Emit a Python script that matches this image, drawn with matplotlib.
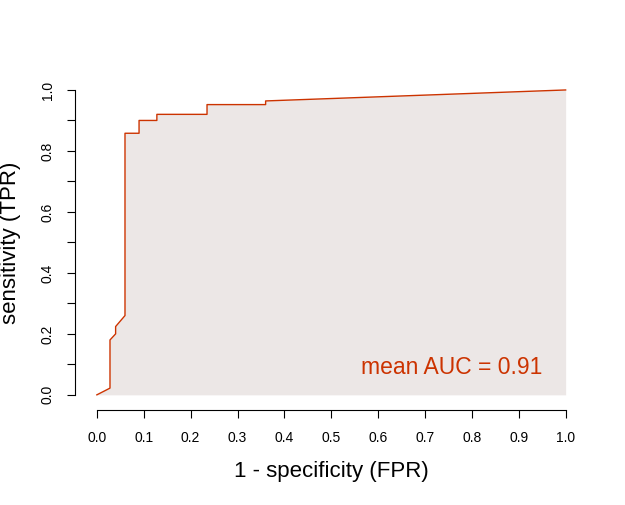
import matplotlib.pyplot as plt
import numpy as np

# ROC step curve (FPR, TPR)
fpr = [0.0, 0.028, 0.028, 0.040, 0.040, 0.060, 0.060, 0.090, 0.090, 0.128, 0.128, 0.235, 0.235, 0.360, 0.360, 1.0]
tpr = [0.0, 0.022, 0.180, 0.200, 0.224, 0.260, 0.858, 0.858, 0.900, 0.900, 0.920, 0.920, 0.952, 0.952, 0.964, 1.0]
auc_text = "mean AUC = 0.91"

line_col = "#CC3300"
fill_col = "#ECE7E6"

fig = plt.figure(figsize=(6.25, 5.05), dpi=100)
ax = fig.add_axes([0.125, 0.194, 0.810, 0.652])
ax.fill_between(fpr, tpr, 0, color=fill_col, linewidth=0)
ax.plot(fpr, tpr, color=line_col, linewidth=1.0)
ax.text(0.95, 0.09, auc_text, color=line_col, fontsize=16.5, ha="right", va="center",
        family="Liberation Sans")

ax.set_xlim(-0.04, 1.04)
ax.set_ylim(-0.04, 1.04)
for s in ["top", "right"]:
    ax.spines[s].set_visible(False)
ax.spines["left"].set_bounds(0, 1)
ax.spines["bottom"].set_bounds(0, 1)
ax.spines["left"].set_position(("outward", 2))
ax.spines["bottom"].set_position(("outward", 2))

ax.set_xticks(np.arange(0, 1.01, 0.1))
ax.set_xticklabels([f"{v:.1f}" for v in np.arange(0, 1.01, 0.1)], family="Liberation Sans", fontsize=10)
ax.set_yticks(np.arange(0, 1.01, 0.1))
ax.set_yticklabels([f"{v:.1f}" if i % 2 == 0 else "" for i, v in enumerate(np.arange(0, 1.01, 0.1))],
                   family="Liberation Sans", fontsize=10, rotation=90, va="center")
ax.tick_params(length=6, pad=9)

ax.set_xlabel("1 - specificity (FPR)", fontsize=16, family="Liberation Sans", labelpad=12)
ax.set_ylabel("sensitivity (TPR)", fontsize=16, family="Liberation Sans", labelpad=14)

fig.savefig("out.png", dpi=100)
